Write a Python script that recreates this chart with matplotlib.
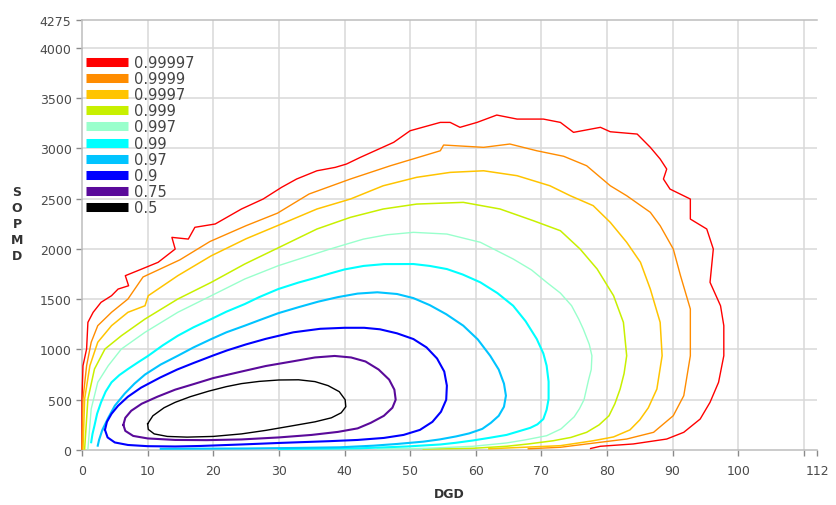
import matplotlib
matplotlib.use("Agg")
import matplotlib.pyplot as plt
from matplotlib.lines import Line2D

# =====================================
# 1) DATA (read off the chart)
# =====================================

levels = ['0.99997', '0.9999', '0.9997', '0.999', '0.997',
          '0.99', '0.97', '0.9', '0.75', '0.5']

colors = ['#FF0000', '#FF8C00', '#FFC400', '#C8F000', '#99FFCC',
          '#00FFFF', '#00C4FF', '#0000FF', '#5A0A9A', '#000000']

# contour 0.99997
c1_x = [0, 0, 0.15, 0.7, 0.9, 1.7, 2.9, 4.5, 5.5, 7.1, 6.6, 9.1, 11.6, 14.2, 13.7,
        16.2, 17.2, 20.3, 24.3, 27.6, 30.4, 32.7, 35.8, 38.6, 40.3, 42.4, 47.5, 50,
        54.6, 56.1, 57.6, 60.2, 63.2, 66.3, 70.3, 72.9, 74.9, 79, 80.5, 84.6, 86.6,
        88.1, 89.1, 88.6, 89.6, 92.7, 92.7, 95.2, 96.2, 95.7, 97.3, 97.8, 97.8, 97,
        95.7, 94.2, 91.7, 89.1, 84, 79, 77.5]
c1_y = [10, 507, 838, 1004, 1269, 1369, 1468, 1534, 1600, 1633, 1733, 1799, 1866,
        1998, 2114, 2097, 2214, 2247, 2396, 2495, 2611, 2694, 2776, 2810, 2843, 2909,
        3059, 3174, 3257, 3257, 3208, 3257, 3330, 3290, 3290, 3257, 3158, 3208, 3164,
        3141, 3009, 2893, 2793, 2694, 2594, 2495, 2296, 2197, 1998, 1667, 1434, 1236,
        937, 673, 474, 308, 176, 109, 60, 37, 15]

# contour 0.9999
c2_x = [0, 0.15, 0.7, 1.4, 2.4, 4.5, 7, 9.3, 14.9, 19.5, 25, 29.8, 34.6, 40.9, 47,
        54.6, 55.1, 61.2, 65.2, 69.3, 73.4, 76.9, 80.5, 83, 86.6, 88.1, 90.1, 91.2,
        92.7, 92.7, 91.7, 90.1, 87.1, 83, 79, 76.9, 72.9, 68]
c2_y = [10, 507, 838, 1071, 1236, 1369, 1501, 1720, 1890, 2073, 2230, 2355, 2545,
        2694, 2826, 2975, 3032, 3009, 3042, 2975, 2920, 2826, 2627, 2528, 2363, 2230,
        1998, 1733, 1402, 937, 540, 341, 176, 109, 77, 60, 27, 12]

# contour 0.9997
c3_x = [0.15, 0.4, 1.2, 2.4, 4.5, 7, 9.6, 10.1, 14.6, 19.7, 25, 30.5, 35.8, 40.9,
        45.9, 51, 56.1, 61.2, 66.3, 71.3, 74.4, 77.9, 80.5, 83, 85.1, 86.6, 88.1,
        88.4, 87.6, 86.3, 85, 83.5, 81, 77.9, 72.9, 62]
c3_y = [10, 507, 838, 1071, 1236, 1369, 1434, 1534, 1733, 1931, 2100, 2250, 2396,
        2495, 2627, 2711, 2760, 2776, 2727, 2627, 2528, 2429, 2263, 2065, 1866, 1600,
        1269, 937, 606, 420, 300, 200, 130, 92, 43, 12]

# contour 0.999
c4_x = [0.4, 0.9, 1.9, 3.5, 6, 9.6, 14.6, 19.7, 24.8, 29.9, 35.8, 40.9, 45.9, 51,
        58.1, 63.7, 68.8, 72.9, 75.9, 78.5, 81, 82.5, 83, 82.6, 82, 81.2, 80.3, 78.8,
        76.9, 74.5, 71.8, 68, 64.7, 59.6, 52]
c4_y = [10, 507, 805, 1004, 1136, 1302, 1501, 1667, 1849, 2010, 2197, 2313, 2396,
        2445, 2462, 2396, 2279, 2180, 1998, 1799, 1534, 1269, 937, 760, 606, 460, 340,
        250, 176, 125, 92, 60, 37, 17, 10]

# contour 0.997
c5_x = [0.9, 1.4, 2.4, 4, 6, 9.6, 14.6, 19.7, 24.8, 29.9, 37.8, 42.9, 46.5, 50.5,
        55.6, 60.7, 65.7, 68.5, 70.8, 72.9, 74.6, 75.7, 76.4, 77.3, 77.7, 77.6, 77.2,
        76.5, 75.8, 75, 73, 70.8, 67.5, 64.7, 59.6, 52.5, 45]
c5_y = [10, 408, 673, 838, 1004, 1170, 1369, 1534, 1700, 1832, 1998, 2097, 2140,
        2164, 2147, 2065, 1899, 1790, 1667, 1560, 1435, 1300, 1200, 1050, 937, 800,
        700, 500, 410, 330, 210, 142, 100, 70, 37, 17, 10]

# contour 0.99
c6_x = [1.4, 1.6, 1.9, 2.3, 2.9, 3.6, 4.5, 5.7, 7, 8.5, 10.1, 12.3, 14.6, 17, 19.7,
        22, 24.8, 27, 29.9, 33, 35.5, 37.8, 40, 42.9, 46, 50.5, 53, 55.6, 58, 60.7,
        63.3, 65.7, 67.6, 69.3, 70.3, 70.8, 71.1, 71.1, 70.8, 70.3, 69.4, 68.3, 66.5,
        64.7, 62, 59.6, 57, 54.6, 49.5, 42.4, 30]
c6_y = [77, 160, 242, 360, 474, 580, 673, 745, 805, 870, 937, 1040, 1136, 1220, 1302,
        1375, 1451, 1520, 1600, 1665, 1710, 1755, 1795, 1830, 1848, 1849, 1830, 1799,
        1745, 1667, 1560, 1434, 1280, 1103, 960, 838, 680, 507, 400, 308, 255, 220,
        185, 150, 120, 95, 72, 55, 35, 17, 10]

# contour 0.97
c7_x = [2.4, 2.6, 3.1, 4, 5, 6.5, 8, 9.6, 12, 14.6, 17, 19.7, 22, 24.8, 27, 29.9, 33,
        36, 39, 42, 45, 48, 50.5, 53, 55.5, 58.1, 60.3, 62.2, 63.5, 64.3, 64.6, 64.3,
        63.5, 62.3, 61, 59, 57, 54.5, 52, 48, 44.4, 39.3, 32, 25, 12]
c7_y = [43, 100, 200, 320, 440, 560, 660, 750, 850, 937, 1020, 1103, 1170, 1236,
        1290, 1360, 1420, 1475, 1520, 1555, 1568, 1551, 1510, 1440, 1350, 1236, 1100,
        937, 800, 660, 540, 430, 340, 270, 210, 165, 135, 105, 83, 60, 43, 27, 20, 15,
        12]

# contour 0.9
c8_x = [3.5, 3.8, 4.5, 5.5, 7, 9, 11.9, 14.5, 17, 20, 22.1, 25, 28, 32.2, 36.3, 40,
        43, 45.4, 48, 50.5, 52.5, 54.1, 55.2, 55.6, 55.5, 54.7, 53.4, 51.5, 49, 46,
        42, 37.8, 30, 24.3, 18, 14.2, 10, 7, 5, 3.9, 3.5]
c8_y = [200, 280, 360, 440, 530, 620, 720, 800, 865, 940, 990, 1050, 1105, 1170,
        1205, 1215, 1215, 1200, 1160, 1103, 1020, 910, 780, 640, 500, 380, 280, 200,
        150, 120, 100, 88, 70, 55, 40, 35, 38, 50, 75, 125, 200]

# contour 0.75
c9_x = [6.3, 6.6, 7.5, 9.1, 11.5, 14.2, 17, 20, 24.3, 28, 32, 35.5, 38.5, 41, 43.2,
        45.2, 46.8, 47.6, 47.8, 47.3, 46, 44, 42, 39, 35, 30, 24.3, 19, 14.2, 10, 7.8,
        6.6, 6.3]
c9_y = [250, 320, 390, 460, 530, 600, 655, 715, 780, 835, 880, 920, 935, 920, 880,
        800, 700, 600, 500, 420, 340, 270, 215, 180, 150, 125, 105, 98, 100, 115, 140,
        190, 250]

# contour 0.5
c10_x = [10, 10.8, 12.5, 14.2, 16.5, 19.3, 22, 24.3, 27, 30, 33, 35.5, 37.5, 39.2,
         40.1, 40.2, 39.5, 38, 35.5, 32, 28, 24.3, 20, 16, 13, 11, 10.1, 10]
c10_y = [260, 340, 420, 474, 530, 585, 630, 660, 682, 696, 698, 680, 640, 580, 500,
         430, 370, 320, 280, 240, 195, 160, 135, 128, 135, 160, 205, 260]

xs = [c1_x, c2_x, c3_x, c4_x, c5_x, c6_x, c7_x, c8_x, c9_x, c10_x]
ys = [c1_y, c2_y, c3_y, c4_y, c5_y, c6_y, c7_y, c8_y, c9_y, c10_y]
widths = [1.0, 1.0, 1.1, 1.1, 1.0, 1.5, 1.5, 1.5, 1.5, 1.0]

x_ticks = [0, 10, 20, 30, 40, 50, 60, 70, 80, 90, 100, 110, 112]
x_labels = ['0', '10', '20', '30', '40', '50', '60', '70', '80', '90', '100', '', '112']
y_ticks = [0, 500, 1000, 1500, 2000, 2500, 3000, 3500, 4000, 4275]

# =====================================
# 2) PLOT
# =====================================

fig = plt.figure(figsize=(8.36, 5.06), dpi=100)
ax = fig.add_axes([82 / 836, 55 / 506, 735 / 836, 430 / 506])

for x, y, c, w in zip(xs, ys, colors, widths):
    ax.plot(x, y, color=c, lw=w, clip_on=False, zorder=3,
            solid_joinstyle='round')

ax.set_xlim(0, 112)
ax.set_ylim(0, 4275)
ax.set_xticks(x_ticks)
ax.set_xticklabels(x_labels)
ax.set_yticks(y_ticks)

grid_c = '#D9D9D9'
for t in x_ticks[1:-1]:
    ax.axvline(t, color=grid_c, lw=1.1, zorder=1)
for t in y_ticks[1:-1]:
    ax.axhline(t, color=grid_c, lw=1.1, zorder=1)

ax.spines['right'].set_visible(False)
for s in ['left', 'bottom', 'top']:
    ax.spines[s].set_color('#BDBDBD')
    ax.spines[s].set_linewidth(1.1)

ax.tick_params(axis='both', colors='#8A8A8A', labelcolor='#4A4A4A',
               labelsize=9, length=4, width=1)
ax.tick_params(axis='x', pad=6)

ax.set_xlabel('DGD', fontsize=9, fontweight='bold', color='#333333', labelpad=7)
fig.text(17 / 836, 1 - 224 / 506, 'S\nO\nP\nM\nD', ha='center', va='center',
         fontsize=9, fontweight='bold', color='#333333', linespacing=1.3)

handles = [Line2D([0], [0], color=c, lw=6.5, solid_capstyle='butt') for c in colors]
leg = ax.legend(handles, levels, loc='upper left', bbox_to_anchor=(0.005, 0.919),
                frameon=False, fontsize=10.5, handlelength=2.9, handletextpad=0.4,
                labelspacing=0.08, borderpad=0, borderaxespad=0)
for t in leg.get_texts():
    t.set_color('#444444')

fig.savefig('out.png', dpi=100)
